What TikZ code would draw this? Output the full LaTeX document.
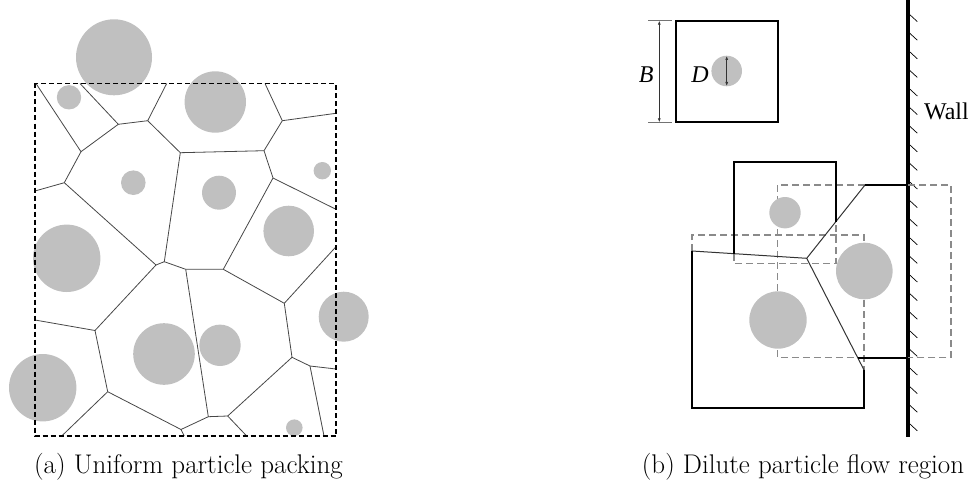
\documentclass[tikz,border=0pt]{standalone}
\usepackage{fontspec}
\newfontfamily\timesf{Liberation Serif}
\usetikzlibrary{arrows.meta}
\definecolor{partgray}{HTML}{C0C0C0}
\definecolor{boxgray}{HTML}{8A8A8A}
\begin{document}
\begin{tikzpicture}[x=1pt,y=-1pt,
  particle/.style={fill=partgray,draw=none},
  vor/.style={draw=black!72,line width=0.8pt},
  packrect/.style={draw=black,line width=1.3pt,dash pattern=on 5pt off 3pt},
  cellline/.style={draw=black,line width=2pt},
  boxline/.style={draw=boxgray,line width=1.5pt,dash pattern=on 7pt off 4pt},
  hatchline/.style={draw=black,line width=0.7pt},
  dimline/.style={draw=black!80,line width=0.7pt,{Latex[length=4pt,width=3pt]}-{Latex[length=4pt,width=3pt]}},
  extline/.style={draw=black!55,line width=0.6pt},
  captxt/.style={font=\fontsize{27}{32}\selectfont,anchor=base},
  rlabel/.style={font=\timesf\fontsize{24}{28}\selectfont}
]
\useasboundingbox (0,0) rectangle (968,484);

% ================= (a) Uniform particle packing =================
\foreach \cx/\cy/\r in {114/57.3/38, 69/97.3/12.2, 215.3/102/30.7, 133.3/182.7/12.3,
  219/192.7/17, 322.3/170.7/8.7, 288.7/231/25.3, 66.7/258.3/33.7, 343.7/316.7/25,
  164/354/30.8, 220/345.3/20.7, 42.7/387.7/33.7, 294.3/427.7/8.3}
  \fill[particle] (\cx,\cy) circle (\r);

\coordinate (A) at (81,151.7);
\coordinate (B) at (118.3,124.3);
\coordinate (C) at (147.7,120.7);
\coordinate (D) at (180.3,152.7);
\coordinate (E) at (264,150.7);
\coordinate (F) at (282.3,120.7);
\coordinate (G) at (273,178);
\coordinate (H) at (64.3,182.7);
\coordinate (I) at (156,265);
\coordinate (J) at (164.3,261.7);
\coordinate (K) at (185.7,269.3);
\coordinate (M) at (223.3,269.3);
\coordinate (N) at (284.3,303.3);
\coordinate (O) at (292,357.3);
\coordinate (P) at (310,366);
\coordinate (Q) at (227.7,416);
\coordinate (R) at (208.3,416.7);
\coordinate (S) at (181,429.5);
\coordinate (T) at (107.7,391.7);
\coordinate (L) at (95,330.5);

\draw[vor] (36,83.5) -- (A) -- (B) -- (C) -- (D) -- (E) -- (F) -- (265,83.5);
\draw[vor] (80,83.5) -- (B);
\draw[vor] (C) -- (166.7,83.5);
\draw[vor] (F) -- (336,113.3);
\draw[vor] (E) -- (G) -- (336,209.3);
\draw[vor] (A) -- (H) -- (35,191);
\draw[vor] (H) -- (I) -- (J) -- (D);
\draw[vor] (J) -- (K) -- (M) -- (G);
\draw[vor] (I) -- (L) -- (35,320);
\draw[vor] (M) -- (N) -- (336,246.7);
\draw[vor] (N) -- (O) -- (P) -- (336,369);
\draw[vor] (P) -- (324,436);
\draw[vor] (O) -- (Q) -- (R) -- (K);
\draw[vor] (R) -- (S) -- (184.3,436);
\draw[vor] (S) -- (T) -- (L);
\draw[vor] (T) -- (61.7,436);
\draw[vor] (Q) -- (246.7,436);

\draw[packrect] (35,83.5) rectangle (336,436);

\node[captxt] (capa) at (188.5,473) {(a) Uniform particle packing};

% ================= (b) Dilute particle flow region =================
% reference cell
\draw[cellline] (676,20.7) rectangle (778.3,122.3);
\fill[particle] (726.7,71) circle (15.3);
\coordinate (dtop) at (726.7,56);
\coordinate (dbot) at (726.7,86);
\draw[dimline] (dtop) -- (dbot);
\node[rlabel,anchor=base] (dlab) at (700,82.7) {\itshape D};

\coordinate (bext1) at (648,20.7);
\coordinate (bext2) at (672,20.7);
\coordinate (bext3) at (648,122.3);
\coordinate (bext4) at (672,122.3);
\draw[extline] (bext1) -- (bext2);
\draw[extline] (bext3) -- (bext4);
\coordinate (btop) at (659.3,20.7);
\coordinate (bbot) at (659.3,122.3);
\draw[dimline] (btop) -- (bbot);
\node[rlabel,anchor=base] (blab) at (646.3,83) {\itshape B};

% wall
\coordinate (wtop) at (908.3,0);
\coordinate (wbot) at (908.3,436.7);
\foreach \i in {0,...,22}
  \draw[hatchline] (908.3,13.3+18.6*\i) -- ++(9,8.3);
\draw[line width=4pt] (wtop) -- (wbot);
\node[rlabel,anchor=base west] (wall) at (920.5,119) {Wall};

% dashed box parts (outside each cell)
\draw[boxline] (734,253.7) -- (734,263.3) -- (836,263.3) -- (836,221.5);
\draw[boxline] (692,251) -- (692,235) -- (864,235) -- (864,370);
\draw[boxline] (865,185) -- (777.3,185) -- (777.3,357.7) -- (857.7,357.7);
\draw[boxline] (908.3,185) -- (951,185) -- (951,357.7) -- (908.3,357.7);

% Voronoi boundaries
\coordinate (V) at (806.7,258.3);
\coordinate (W1) at (692,251);
\coordinate (W2) at (865,185);
\coordinate (W3) at (864,370);
\draw[draw=black!80,line width=1pt] (W1) -- (V) -- (W2);
\draw[draw=black!80,line width=1pt] (V) -- (W3);

% solid box parts
\draw[cellline] (734,253.7) -- (734,162.3) -- (836,162.3) -- (836,221.5);
\draw[cellline] (W1) -- (692,407.7) -- (864,407.7) -- (W3);
\draw[cellline] (W2) -- (908.3,185);
\draw[cellline] (857.7,357.7) -- (908.3,357.7);

% particles
\fill[particle] (785,212.7) circle (15.7);
\fill[particle] (778,320) circle (28.7);
\fill[particle] (864.3,271) circle (28.3);

\node[captxt] (capb) at (803,473) {(b) Dilute particle flow region};
\end{tikzpicture}
\end{document}
